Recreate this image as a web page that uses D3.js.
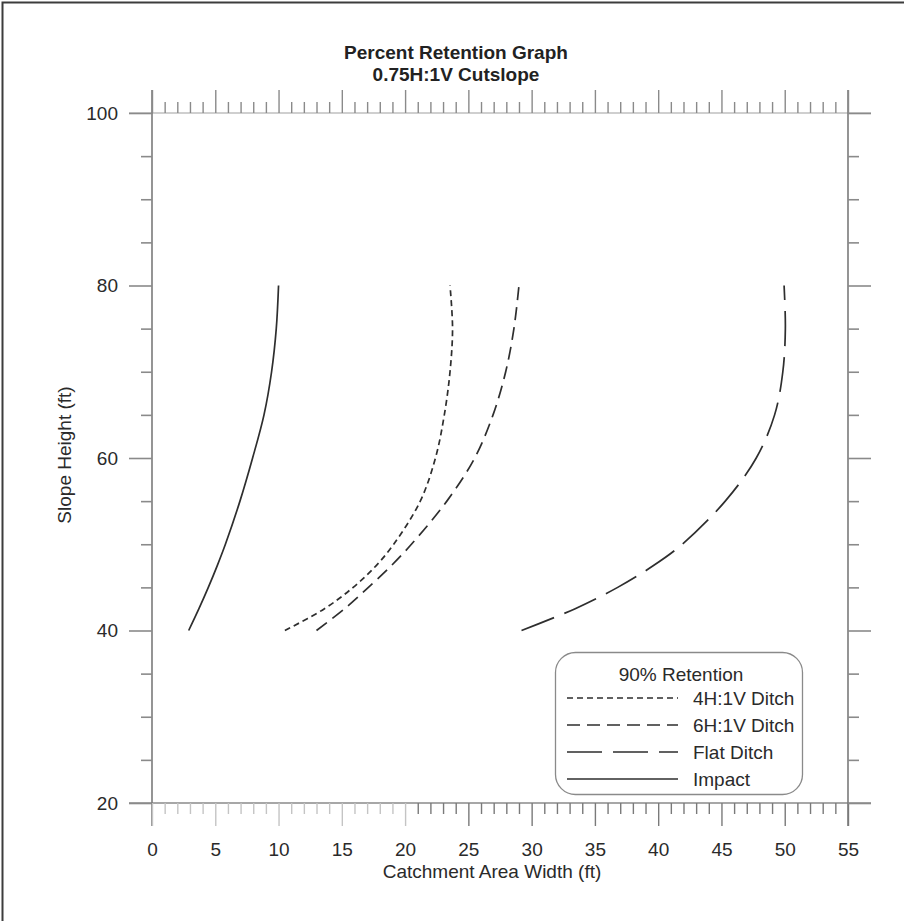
<!DOCTYPE html>
<html><head><meta charset="utf-8">
<script src="https://cdn.jsdelivr.net/npm/d3@7"></script>
<style>body{margin:0;background:#fff}svg{display:block}</style>
</head><body>
<svg id="chart" width="904" height="921"></svg>
<script>
// ---- data ----
const slopeHeights = [40, 42.5, 45, 47.5, 50, 55, 60, 65, 70, 75, 80];
const ditch4H   = [10.5, 13.6, 15.9, 17.7, 19.1, 21.2, 22.4, 23.1, 23.55, 23.75, 23.55];
const ditch6H   = [13.0, 15.2, 17.1, 18.9, 20.5, 23.3, 25.5, 26.95, 27.95, 28.6, 29.0];
const flatDitch = [29.2, 33.4, 36.8, 39.6, 41.9, 45.3, 47.75, 49.2, 49.85, 50.05, 49.95];
const impact    = [2.9, 3.7, 4.45, 5.15, 5.8, 6.95, 7.95, 8.85, 9.45, 9.82, 10.0];
const seriesNames = ["4H:1V Ditch", "6H:1V Ditch", "Flat Ditch", "Impact"];
const xTickLabels = [0, 5, 10, 15, 20, 25, 30, 35, 40, 45, 50, 55];
const yTickLabels = [20, 40, 60, 80, 100];
const titleLines = ["Percent Retention Graph", "0.75H:1V Cutslope"];
const xAxisTitle = "Catchment Area Width (ft)";
const yAxisTitle = "Slope Height (ft)";
const legendTitle = "90% Retention";

// ---- setup ----
const FONT = "'Liberation Sans', Arial, sans-serif";
const W = 904, H = 921;
const svg = d3.select("#chart");
const x = d3.scaleLinear().domain([0, 55]).range([152, 848]);
const y = d3.scaleLinear().domain([20, 100]).range([803, 113]);
const [xL, xR] = x.range();
const [yB, yT] = y.range();
const MAJ = 23, MIN = 11;

// page frame (top + left)
svg.append("path").attr("d", `M2.5,${H} V2.5 H${W}`)
  .attr("fill", "none").attr("stroke", "#3c3c3c").attr("stroke-width", 2);

// title
const title = svg.append("text").attr("x", 456).attr("text-anchor", "middle")
  .attr("font-family", FONT).attr("font-size", 19).attr("font-weight", "bold").attr("fill", "#222");
titleLines.forEach((t, i) => title.append("tspan").attr("x", 456).attr("y", 59 + i * 22).text(t));

// spines
svg.append("line").attr("x1", xL - MAJ).attr("x2", xR + MAJ).attr("y1", yT).attr("y2", yT)
  .attr("stroke", "#cfcfcf").attr("stroke-width", 2);
svg.append("line").attr("x1", xL - MAJ).attr("x2", xR + MAJ).attr("y1", yB).attr("y2", yB)
  .attr("stroke", "#8a8a8a").attr("stroke-width", 1.6);
[xL, xR].forEach(px => svg.append("line").attr("x1", px).attr("x2", px)
  .attr("y1", yT - MAJ).attr("y2", yB + MAJ).attr("stroke", "#7a7a7a").attr("stroke-width", 1.6));

function finish(g, colorFn, w) {
  g.select(".domain").remove();
  g.attr("font-family", FONT).attr("font-size", 19);
  g.selectAll(".tick line").attr("stroke", d => colorFn(d)).attr("stroke-width", w);
  g.selectAll(".tick text").attr("fill", "#2a2a2a");
}
const xMinor = d3.range(0, 56).filter(v => v % 5 !== 0);
const yMinor = d3.range(20, 101, 5).filter(v => v % 20 !== 0);

// top axis
svg.append("g").attr("transform", `translate(0,${yT})`)
  .call(d3.axisTop(x).tickValues(xTickLabels).tickSize(MAJ).tickFormat(""))
  .call(g => finish(g, () => "#8a8a8a", 1.4));
svg.append("g").attr("transform", `translate(0,${yT})`)
  .call(d3.axisTop(x).tickValues(xMinor).tickSize(MIN).tickFormat(""))
  .call(g => finish(g, () => "#8a8a8a", 1.4));
// bottom axis
const botCol = d => d <= 20 ? "#c4c4c4" : "#7a7a7a";
svg.append("g").attr("transform", `translate(0,${yB})`)
  .call(d3.axisBottom(x).tickValues(xTickLabels).tickSize(MAJ).tickPadding(17).tickFormat(d3.format("d")))
  .call(g => finish(g, botCol, 1.4));
svg.append("g").attr("transform", `translate(0,${yB})`)
  .call(d3.axisBottom(x).tickValues(xMinor).tickSize(MIN).tickFormat(""))
  .call(g => finish(g, botCol, 1.4));
// left axis
svg.append("g").attr("transform", `translate(${xL},0)`)
  .call(d3.axisLeft(y).tickValues(yTickLabels).tickSize(MAJ).tickPadding(11).tickFormat(d3.format("d")))
  .call(g => finish(g, () => "#8a8a8a", 1.6));
svg.append("g").attr("transform", `translate(${xL},0)`)
  .call(d3.axisLeft(y).tickValues(yMinor).tickSize(MIN).tickFormat(""))
  .call(g => finish(g, () => "#8a8a8a", 1.6));
// right axis
svg.append("g").attr("transform", `translate(${xR},0)`)
  .call(d3.axisRight(y).tickValues(yTickLabels).tickSize(MAJ).tickFormat(""))
  .call(g => finish(g, () => "#8a8a8a", 1.6));
svg.append("g").attr("transform", `translate(${xR},0)`)
  .call(d3.axisRight(y).tickValues(yMinor).tickSize(MIN).tickFormat(""))
  .call(g => finish(g, () => "#8a8a8a", 1.6));

// axis titles
svg.append("text").attr("x", 492).attr("y", 878).attr("text-anchor", "middle")
  .attr("font-family", FONT).attr("font-size", 19).attr("fill", "#2a2a2a").text(xAxisTitle);
svg.append("text").attr("transform", `translate(71,455) rotate(-90)`).attr("text-anchor", "middle")
  .attr("font-family", FONT).attr("font-size", 19).attr("fill", "#2a2a2a").text(yAxisTitle);

// curves
const dashes = ["6,4", "13,7", "35,11", null];
const seriesData = [ditch4H, ditch6H, flatDitch, impact];
const line = d3.line().x(d => x(d[0])).y(d => y(d[1])).curve(d3.curveCatmullRom.alpha(0.5));
seriesData.forEach((vals, i) => {
  const pts = vals.map((v, j) => [v, slopeHeights[j]]);
  svg.append("path").datum(pts).attr("d", line)
    .attr("fill", "none").attr("stroke", "#2e2e2e").attr("stroke-width", 1.7)
    .attr("stroke-dasharray", dashes[i]);
});

// legend
const lg = svg.append("g");
lg.append("rect").attr("x", 555.5).attr("y", 652.5).attr("width", 247).attr("height", 142)
  .attr("rx", 20).attr("ry", 20).attr("fill", "#fff").attr("stroke", "#8a8a8a").attr("stroke-width", 1.3);
lg.append("text").attr("x", 681).attr("y", 681).attr("text-anchor", "middle")
  .attr("font-family", FONT).attr("font-size", 19).attr("fill", "#2a2a2a").text(legendTitle);
seriesNames.forEach((name, i) => {
  const cy = 698 + i * 27;
  lg.append("line").attr("x1", 567).attr("x2", 678).attr("y1", cy).attr("y2", cy)
    .attr("stroke", "#2e2e2e").attr("stroke-width", 1.7).attr("stroke-dasharray", dashes[i]);
  lg.append("text").attr("x", 693).attr("y", cy + 7).attr("font-family", FONT).attr("font-size", 19)
    .attr("fill", "#2a2a2a").text(name);
});
</script>
</body></html>
